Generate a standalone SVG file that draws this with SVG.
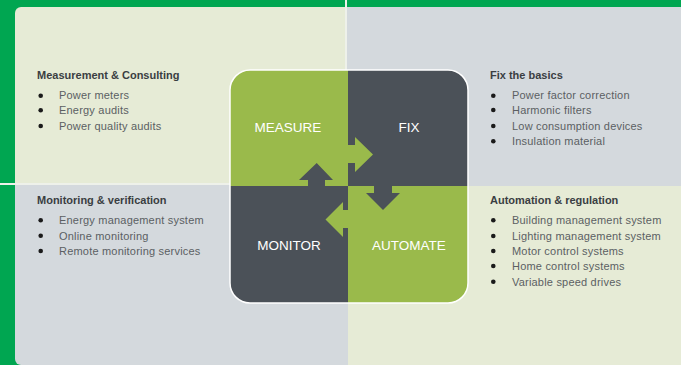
<svg xmlns="http://www.w3.org/2000/svg" width="681" height="365" viewBox="0 0 681 365">
<defs>
<style>
.hd{font-family:"Liberation Sans",Arial,sans-serif;font-size:11px;font-weight:bold;fill:#3a3e42}
.it{font-family:"Liberation Sans",Arial,sans-serif;font-size:11px;letter-spacing:0.2px;fill:#5b5f63}
.bl{fill:#1a1a1a}
.q{font-family:"Liberation Sans",Arial,sans-serif;font-size:13.5px;fill:#ffffff;text-anchor:middle}
.lg{fill:#e6ebd6}
.gy{fill:#d4d9dd}
.gr{fill:#9aba4b}
.dk{fill:#4b5158}
</style>
<clipPath id="box"><rect x="230" y="70" width="238" height="233" rx="20"/></clipPath>
</defs>
<rect x="0" y="0" width="681" height="365" fill="#00a651"/>
<g id="panels">
<path class="lg" d="M21 7H346V185H15V13A6 6 0 0 1 21 7Z"/>
<rect class="gy" x="346" y="7" width="335" height="179"/>
<path class="gy" d="M15 185H348V365H21A6 6 0 0 1 15 359Z"/>
<rect class="lg" x="348" y="186" width="333" height="179"/>
<rect x="345" y="0" width="2" height="185" fill="#eef1ea"/>
<rect x="0" y="183" width="346" height="2" fill="#eef1ea"/>
</g>
<g id="measurement-consulting">
<text class="hd" x="37" y="79">Measurement &amp; Consulting</text>
<circle class="bl" cx="40.7" cy="95.7" r="2.3"/><text class="it" x="59" y="99">Power meters</text>
<circle class="bl" cx="40.7" cy="110.3" r="2.3"/><text class="it" x="59" y="114">Energy audits</text>
<circle class="bl" cx="40.7" cy="126" r="2.3"/><text class="it" x="59" y="130">Power quality audits</text>
</g>
<g id="fix-basics">
<text class="hd" x="490" y="79">Fix the basics</text>
<circle class="bl" cx="493.3" cy="95.7" r="2.3"/><text class="it" x="512" y="99">Power factor correction</text>
<circle class="bl" cx="493.3" cy="110" r="2.3"/><text class="it" x="512" y="114">Harmonic filters</text>
<circle class="bl" cx="493.3" cy="126" r="2.3"/><text class="it" x="512" y="130">Low consumption devices</text>
<circle class="bl" cx="493.3" cy="141.3" r="2.3"/><text class="it" x="512" y="145">Insulation material</text>
</g>
<g id="monitoring-verification">
<text class="hd" x="37" y="204">Monitoring &amp; verification</text>
<circle class="bl" cx="40.7" cy="220.3" r="2.3"/><text class="it" x="59" y="224">Energy management system</text>
<circle class="bl" cx="40.7" cy="235.7" r="2.3"/><text class="it" x="59" y="240">Online monitoring</text>
<circle class="bl" cx="40.7" cy="251" r="2.3"/><text class="it" x="59" y="255">Remote monitoring services</text>
</g>
<g id="automation-regulation">
<text class="hd" x="490" y="204">Automation &amp; regulation</text>
<circle class="bl" cx="493.3" cy="220.3" r="2.3"/><text class="it" x="512" y="224">Building management system</text>
<circle class="bl" cx="493.3" cy="236" r="2.3"/><text class="it" x="512" y="240">Lighting management system</text>
<circle class="bl" cx="493.3" cy="251" r="2.3"/><text class="it" x="512" y="255">Motor control systems</text>
<circle class="bl" cx="493.3" cy="266" r="2.3"/><text class="it" x="512" y="270">Home control systems</text>
<circle class="bl" cx="493.3" cy="281.7" r="2.3"/><text class="it" x="512" y="286">Variable speed drives</text>
</g>
<g clip-path="url(#box)">
<g id="measure"><rect class="gr" x="230" y="70" width="118" height="116"/><text class="q" x="288" y="132">MEASURE</text></g>
<g id="fix"><rect class="dk" x="348" y="70" width="120" height="116"/><text class="q" x="409" y="132">FIX</text></g>
<g id="monitor"><rect class="dk" x="230" y="186" width="118" height="117"/><text class="q" x="289" y="250">MONITOR</text></g>
<g id="automate"><rect class="gr" x="348" y="186" width="120" height="117"/><text class="q" x="409" y="250">AUTOMATE</text></g>
</g>
<rect x="230" y="70" width="238" height="233" rx="20" fill="none" stroke="#ffffff" stroke-width="1.5"/>
<g id="connectors">
<path class="gr" d="M348 145H355V137L373 154.5L355 172V163H348Z"/>
<path class="dk" d="M308 186V180H299L316.7 163L333 180H325V186Z"/>
<path class="dk" d="M374 186V193H366L383 210L400 193H392V186Z"/>
<path class="gr" d="M348 210H343V202L325.5 219.5L343 237V228H348Z"/>
</g>
</svg>
